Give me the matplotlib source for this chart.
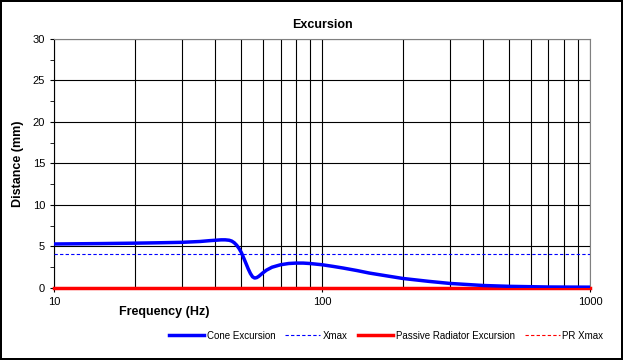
import matplotlib
matplotlib.use("Agg")
import matplotlib.pyplot as plt
from matplotlib.ticker import FixedLocator, NullFormatter, FixedFormatter

plt.rcParams["font.family"] = ["Liberation Sans", "DejaVu Sans"]

# values
freq = [10, 15, 20, 25, 30, 35, 38, 40, 42, 43.5, 45, 46, 47, 48, 49, 50, 51, 52, 53, 54,
        55, 56, 57, 58, 60, 62, 65, 70, 75, 80, 85, 90, 100, 110, 120, 135, 150, 175,
        200, 250, 300, 400, 500, 700, 1000]
cone = [5.3, 5.35, 5.4, 5.45, 5.5, 5.6, 5.7, 5.75, 5.8, 5.8, 5.75, 5.65, 5.45, 5.15, 4.75, 4.25,
        3.6, 2.95, 2.3, 1.75, 1.35, 1.2, 1.25, 1.4, 1.8, 2.15, 2.5, 2.8, 2.95, 3.0, 3.0, 2.95,
        2.8, 2.6, 2.4, 2.1, 1.8, 1.45, 1.15, 0.8, 0.55, 0.3, 0.2, 0.12, 0.1]
pr = [0.0 for _ in freq]
xmax = 4.1
pr_xmax = 0.0

fig = plt.figure(figsize=(6.23, 3.6), dpi=100)
fig.patch.set_edgecolor("black")
fig.patch.set_linewidth(1.5)
ax = fig.add_axes([0.087, 0.2, 0.86, 0.692])

ax.set_xscale("log")
ax.set_xlim(10, 1000)
ax.set_ylim(0, 30)

ax.xaxis.set_major_locator(FixedLocator([10, 100, 1000]))
ax.xaxis.set_major_formatter(FixedFormatter(["10", "100", "1000"]))
ax.xaxis.set_minor_locator(FixedLocator([k * d for d in (10, 100) for k in range(2, 10)]))
ax.xaxis.set_minor_formatter(NullFormatter())
ax.set_yticks(range(0, 31, 5))
ax.set_yticks([2.5 + 5 * i for i in range(6)], minor=True)

ax.grid(True, which="major", axis="y", color="black", linewidth=0.8)
ax.grid(True, which="both", axis="x", color="black", linewidth=0.8)
ax.tick_params(axis="both", which="both", labelsize=8, length=3, direction="out")
ax.tick_params(axis="x", which="minor", length=0)

for side in ("top", "right"):
    ax.spines[side].set_color("#808080")
ax.spines["left"].set_color("black")
ax.spines["bottom"].set_color("black")

ax.plot(freq, pr, color="#ff0000", linewidth=2.5, label="Passive Radiator Excursion",
        zorder=3, clip_on=False)
ax.axhline(pr_xmax, color="#ff0000", linewidth=0.8, linestyle=(0, (3, 2)), label="PR Xmax",
           zorder=3, clip_on=False)
ax.plot(freq, cone, color="#0000ff", linewidth=2.5, label="Cone Excursion", zorder=4)
ax.axhline(xmax, color="#0000ff", linewidth=0.8, linestyle=(0, (3, 2)), label="Xmax", zorder=4)

ax.set_title("Excursion", fontsize=9, fontweight="bold", pad=8)
ax.set_xlabel("Frequency (Hz)", fontsize=9, fontweight="bold")
ax.xaxis.set_label_coords(0.205, -0.072)
ax.set_ylabel("Distance (mm)", fontsize=9, fontweight="bold", labelpad=6)

h, l = ax.get_legend_handles_labels()
order = [2, 3, 0, 1]
fig.legend([h[i] for i in order], [l[i] for i in order], loc="center", ncol=4,
           bbox_to_anchor=(0.62, 0.067), frameon=False, fontsize=7,
           handlelength=3.6, columnspacing=1.0, handletextpad=0.3)

fig.savefig("out.png", dpi=100, edgecolor=fig.get_edgecolor())
